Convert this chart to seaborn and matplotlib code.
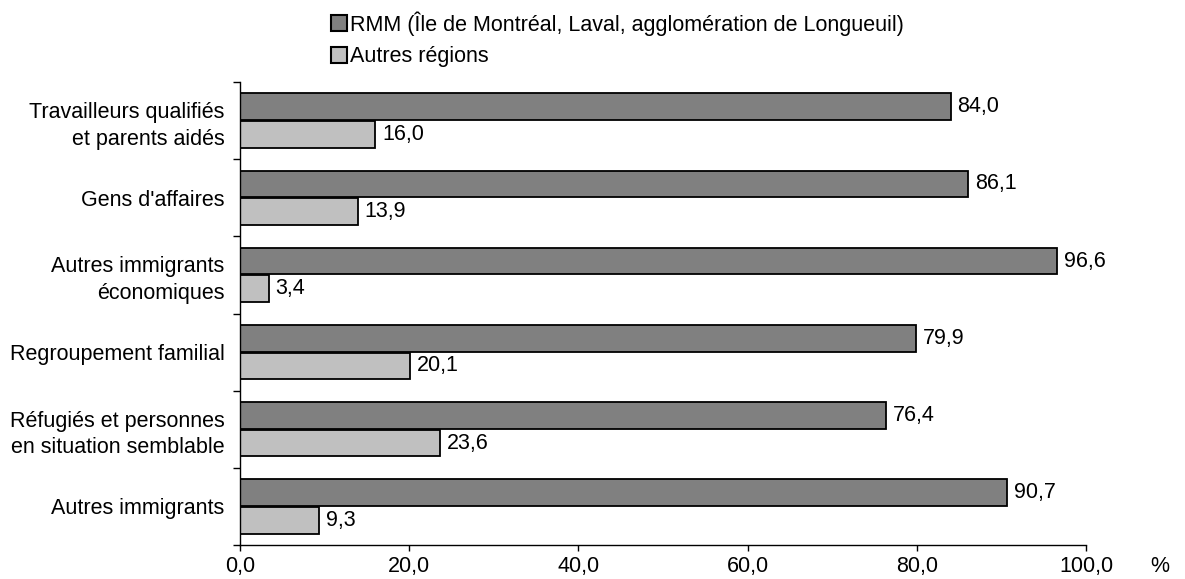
import matplotlib
matplotlib.use("Agg")
import matplotlib.pyplot as plt
import seaborn as sns
import pandas as pd
from matplotlib.patches import Patch
from matplotlib.ticker import FixedLocator, FuncFormatter

categories = ["Travailleurs qualifiés\net parents aidés", "Gens d'affaires",
              "Autres immigrants\néconomiques", "Regroupement familial",
              "Réfugiés et personnes\nen situation semblable", "Autres immigrants"]
rmm = [84.0, 86.1, 96.6, 79.9, 76.4, 90.7]
autres = [16.0, 13.9, 3.4, 20.1, 23.6, 9.3]
series = ["RMM (Île de Montréal, Laval, agglomération de Longueuil)", "Autres régions"]
colors = ["#808080", "#C0C0C0"]
xticks = [0, 20, 40, 60, 80, 100]

df = pd.DataFrame({
    "cat": categories * 2,
    "val": rmm + autres,
    "serie": [series[0]] * 6 + [series[1]] * 6,
})

sns.set_theme(style="white")
plt.rcParams['font.family'] = ['Liberation Sans', 'DejaVu Sans']
plt.rcParams['text.color'] = 'black'
plt.rcParams['xtick.color'] = 'black'
plt.rcParams['ytick.color'] = 'black'
FS = 15.5

fig = plt.figure(figsize=(11.85, 5.79), dpi=100)
ax = fig.add_axes([240/1185, 1-545/579, (1086-240)/1185, (545-82)/579])

sns.barplot(data=df, y="cat", x="val", hue="serie", palette=colors, orient="h",
            width=0.72, gap=0.04, edgecolor="black", linewidth=1.3, ax=ax,
            legend=False, saturation=1)

ax.set_xlim(0, 100)
ax.set_ylim(5.5, -0.5)
ax.set_xlabel("")
ax.set_ylabel("")
for s in ["top", "right"]:
    ax.spines[s].set_visible(False)
for s in ["left", "bottom"]:
    ax.spines[s].set_color("black")
    ax.spines[s].set_linewidth(1.0)

ax.set_xticks(xticks)
ax.xaxis.set_major_formatter(FuncFormatter(lambda v, p: f"{v:.1f}".replace(".", ",")))
ax.tick_params(axis="x", length=4, width=1, color="black", labelsize=FS, pad=4,
               direction="out", bottom=True, labelcolor="black")
ax.yaxis.set_minor_locator(FixedLocator([i - 0.5 for i in range(7)]))
ax.tick_params(axis="y", which="minor", length=5, width=1, color="black", left=True)
ax.tick_params(axis="y", which="major", length=0, labelsize=FS, pad=11, labelcolor="black")
ax.set_yticklabels(categories, linespacing=1.35, ha="right", multialignment="right")

for cont in ax.containers:
    labels = [f"{b.get_width():.1f}".replace(".", ",") for b in cont]
    ax.bar_label(cont, labels=labels, padding=5, fontsize=FS, color="black")

fig.text(1160/1185, 1-566/579, "%", fontsize=FS, ha="center", va="center", color="black")

handles = [Patch(facecolor=c, edgecolor="black", linewidth=1.5) for c in colors]
fig.legend(handles, series, loc="upper left", bbox_to_anchor=(316/1185, 1+4/579),
           frameon=False, fontsize=FS, handlelength=0.75, handleheight=0.75,
           handletextpad=0.15, labelspacing=0.5, borderpad=0.2, labelcolor="black")

fig.savefig("out.png", dpi=100)
